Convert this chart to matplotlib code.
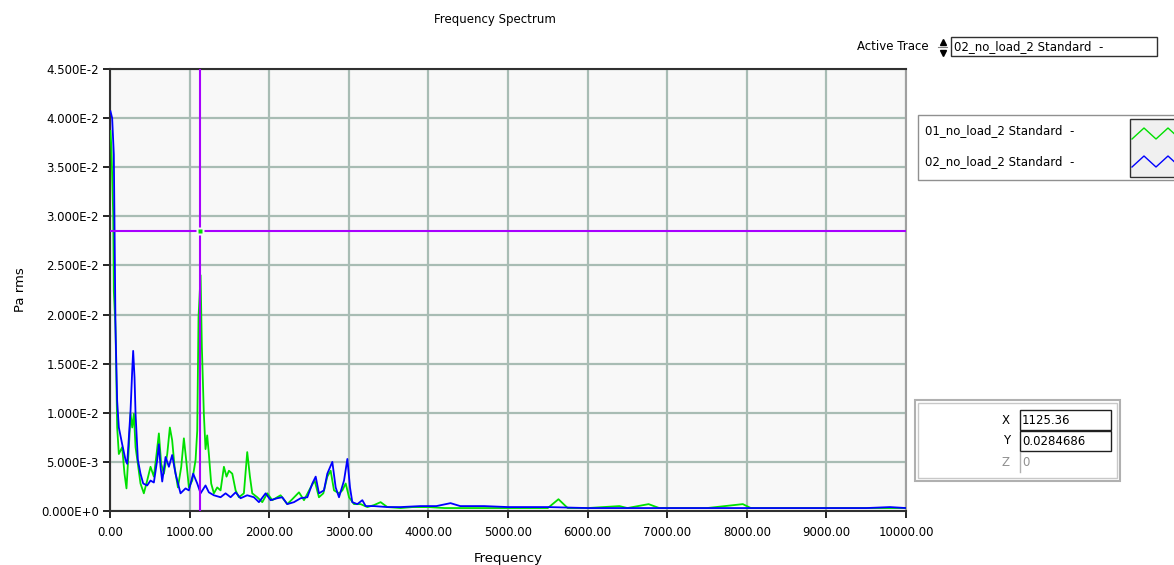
import numpy as np
import matplotlib
matplotlib.use('Agg')
import matplotlib.pyplot as plt
from matplotlib.patches import Rectangle
from matplotlib.ticker import FuncFormatter, MultipleLocator

### Data ###
trace_names = ['01_no_load_2 Standard  -', '02_no_load_2 Standard  -']
active_trace = '02_no_load_2 Standard  -'

freq_01 = [6, 19, 40, 48, 69, 90, 111, 153, 182, 207,
           237, 258, 279, 300, 321, 350, 383, 425, 467, 509,
           551, 585, 614, 643, 677, 719, 752, 781, 811, 853,
           895, 928, 957, 991, 1033, 1075, 1096, 1112, 1138, 1154,
           1179, 1200, 1221, 1242, 1271, 1305, 1347, 1389, 1431, 1464,
           1494, 1536, 1578, 1619, 1682, 1724, 1758, 1787, 1850, 1913,
           1976, 2038, 2143, 2227, 2290, 2374, 2437, 2521, 2571, 2625,
           2680, 2730, 2772, 2814, 2877, 2919, 2961, 3003, 3065, 3149,
           3233, 3316, 3400, 3484, 3652,
           3800, 4000, 4200, 4500, 4800, 5200, 5500, 5634, 5750, 6000,
           6400, 6500, 6766, 6900, 7500, 7950, 8050, 8500, 9000, 9500, 10000]
pa_01 = [0.0387, 0.0367, 0.0302, 0.0224, 0.0187, 0.0085, 0.0058, 0.0065, 0.0038, 0.0023,
         0.0065, 0.0099, 0.0085, 0.0099, 0.0065, 0.0048, 0.0028, 0.0018, 0.0031, 0.0045,
         0.0035, 0.0058, 0.0079, 0.0048, 0.0038, 0.0058, 0.0085, 0.0072, 0.0045, 0.0024,
         0.0045, 0.0074, 0.0052, 0.0024, 0.0031, 0.0052, 0.0082, 0.0197, 0.0240, 0.0167,
         0.0099, 0.0063, 0.0077, 0.0058, 0.0028, 0.0018, 0.0024, 0.0021, 0.0045, 0.0035,
         0.0041, 0.0038, 0.0021, 0.0014, 0.0018, 0.0060, 0.0035, 0.0018, 0.0014, 0.0009,
         0.0018, 0.0011, 0.0016, 0.0007, 0.0012, 0.0019, 0.0011, 0.0024, 0.0031, 0.0014,
         0.0018, 0.0035, 0.0041, 0.0021, 0.0018, 0.0021, 0.0028, 0.0014, 0.0007, 0.0007,
         0.0004, 0.0006, 0.0009, 0.0004, 0.0003,
         0.0004, 0.0004, 0.0003, 0.0003, 0.0003, 0.0003, 0.0003, 0.0012, 0.0003, 0.0003,
         0.0005, 0.0003, 0.0007, 0.0003, 0.0003, 0.0007, 0.0003, 0.0003, 0.0003, 0.0003, 0.0003]

freq_02 = [6, 27, 48, 57, 69, 90, 111, 153, 195, 216,
           258, 279, 291, 308, 321, 350, 383, 417, 467, 509,
           551, 593, 614, 635, 656, 698, 740, 781, 823, 886,
           949, 991, 1045, 1096, 1138, 1200, 1242, 1305, 1389, 1452,
           1515, 1578, 1640, 1724, 1808, 1871, 1955, 2018, 2101, 2164,
           2227, 2311, 2395, 2479, 2542, 2584, 2625, 2688, 2730, 2793,
           2835, 2877, 2940, 2982, 3015, 3044, 3107, 3170, 3212, 3316,
           3484, 3652,
           3900, 4100, 4278, 4400, 4700, 5000, 5500, 6000, 6500, 7000,
           7500, 8000, 8500, 9000, 9500, 9800, 10000]
pa_02 = [0.0407, 0.0400, 0.0363, 0.0289, 0.0187, 0.0112, 0.0085, 0.0068, 0.0052, 0.0048,
         0.0102, 0.0143, 0.0163, 0.0136, 0.0099, 0.0052, 0.0038, 0.0028, 0.0026, 0.0031,
         0.0029, 0.0052, 0.0068, 0.0045, 0.0030, 0.0055, 0.0045, 0.0057, 0.0038, 0.0018,
         0.0023, 0.0021, 0.0038, 0.0028, 0.0018, 0.0026, 0.0019, 0.0016, 0.0014, 0.0018,
         0.0014, 0.0019, 0.0013, 0.0016, 0.0014, 0.0009, 0.0018, 0.0011, 0.0013, 0.0014,
         0.0007, 0.0009, 0.0013, 0.0014, 0.0028, 0.0035, 0.0018, 0.0021, 0.0038, 0.0050,
         0.0024, 0.0014, 0.0031, 0.0053, 0.0024, 0.0009, 0.0007, 0.0011, 0.0005, 0.0005,
         0.0004, 0.0004,
         0.0005, 0.0005, 0.0008, 0.0005, 0.0005, 0.0004, 0.0004, 0.0003, 0.0003, 0.0003,
         0.0003, 0.0003, 0.0003, 0.0003, 0.0003, 0.0004, 0.0003]

cursor_x = 1125.36
cursor_y = 0.0284686

### Styles ###
green = '#00e000'
blue = '#0000ff'
cursor_col = '#a800ff'
grid_col = '#a8bcb4'
font_size = 8.5
plt.rcParams['font.family'] = 'DejaVu Sans'

W, H, dpi = 1174, 565, 100
fig = plt.figure(figsize=(W / dpi, H / dpi), dpi=dpi)
fig.patch.set_facecolor('white')

# plot area in pixel positions
px_left, px_right, px_top, px_bottom = 110, 906, 69, 511
ax = fig.add_axes([px_left / W, 1 - px_bottom / H,
                   (px_right - px_left) / W, (px_bottom - px_top) / H])
ax.set_facecolor('#f8f8f8')

ax.plot(freq_01, pa_01, color=green, lw=1.3, zorder=3)
ax.plot(freq_02, pa_02, color=blue, lw=1.3, zorder=4)

# cursor cross
ax.axvline(cursor_x, color=cursor_col, lw=1.5, zorder=5)
ax.axhline(cursor_y, color=cursor_col, lw=1.5, zorder=5)
ax.plot(cursor_x, cursor_y, marker='s', ms=6, color='#f8f8f8', mec='none', zorder=6)
ax.plot(cursor_x, cursor_y, marker='s', ms=2.5, color=green, mec='none', zorder=7)

ax.set_xlim(0, 10000)
ax.set_ylim(0, 0.045)
ax.xaxis.set_major_locator(MultipleLocator(1000))
ax.yaxis.set_major_locator(MultipleLocator(0.005))


def sci(v, pos):
    if abs(v) < 1e-12:
        return '0.000E+0'
    e = int(np.floor(np.log10(abs(v)) + 1e-9))
    return f'{v / 10**e:.3f}E{e}'


ax.yaxis.set_major_formatter(FuncFormatter(sci))
ax.xaxis.set_major_formatter(FuncFormatter(lambda v, p: f'{v:.2f}'))
ax.tick_params(direction='out', length=5, width=1.2, labelsize=font_size,
               colors='black')
ax.tick_params(axis='x', pad=6)
ax.tick_params(axis='y', pad=3)
ax.grid(True, color=grid_col, lw=1.6, zorder=0)
ax.set_axisbelow(True)

for s in ['left', 'top', 'bottom']:
    ax.spines[s].set_color('#303030')
    ax.spines[s].set_linewidth(1.5)
ax.spines['right'].set_color('#a0a0a0')
ax.spines['right'].set_linewidth(1.5)

ax.set_xlabel('Frequency', fontsize=9.5, labelpad=9)
ax.set_ylabel('Pa rms', fontsize=9.5, labelpad=10)
fig.text(495 / W, 1 - 20 / H, 'Frequency Spectrum', fontsize=font_size,
         ha='center', va='center')

### Panel widgets drawn in pixel coordinates ###
ov = fig.add_axes([0, 0, 1, 1], zorder=10)
ov.set_xlim(0, W)
ov.set_ylim(H, 0)
ov.axis('off')
ov.patch.set_alpha(0)


def box(x0, y0, x1, y1, ec='#202020', fc='white', lw=1.0, z=1):
    ov.add_patch(Rectangle((x0, y0), x1 - x0, y1 - y0, ec=ec, fc=fc, lw=lw, zorder=z))


# active trace selector
ov.text(929, 46, 'Active Trace', fontsize=font_size, ha='right', va='center')
ov.plot(942.5, 42, marker='^', ms=4, color='black', zorder=3)
ov.plot([938, 947], [47, 47], color='#808080', lw=0.8, zorder=3)
ov.plot(942.5, 53, marker='v', ms=4, color='black', zorder=3)
box(951, 37, 1157, 56, ec='#303030')
ov.text(954, 46.5, active_trace, fontsize=font_size, ha='left', va='center')

# legend
box(918, 115, 1180, 180, ec='#909090')
ov.text(925, 131, trace_names[0], fontsize=font_size, ha='left', va='center')
ov.text(925, 162, trace_names[1], fontsize=font_size, ha='left', va='center')
box(1130, 119, 1180, 177, ec='#303030', fc='#f0f0f0', z=2)
zig_x = np.array([1132, 1144, 1156, 1168, 1180])
ov.plot(zig_x, [139, 128, 139, 128, 139], color=green, lw=1, zorder=3)
ov.plot(zig_x, [167, 156, 167, 156, 167], color=blue, lw=1, zorder=3)

# cursor readout
box(915, 400, 1120, 481, ec='#b0b0b0', lw=1.5)
box(918, 403, 1117, 478, ec='#c8c8c8', lw=1.0)
cursor_rows = [('X', f'{cursor_x:g}', 'black'),
               ('Y', f'{cursor_y:g}', 'black'),
               ('Z', '0', '#909090')]
for i, (lab, val, col) in enumerate(cursor_rows):
    y0 = 410 + i * 21
    ov.text(1010, y0 + 10, lab, fontsize=font_size, ha='right', va='center', color=col)
    if i < 2:
        box(1020, y0, 1111, y0 + 20, ec='#202020', z=2)
    else:
        ov.plot([1020, 1020], [y0, y0 + 20], color='#b0b0b0', lw=1, zorder=2)
    ov.text(1022, y0 + 10.5, val, fontsize=font_size, ha='left', va='center',
            color=col, zorder=3)

fig.savefig('out.png', dpi=dpi)
